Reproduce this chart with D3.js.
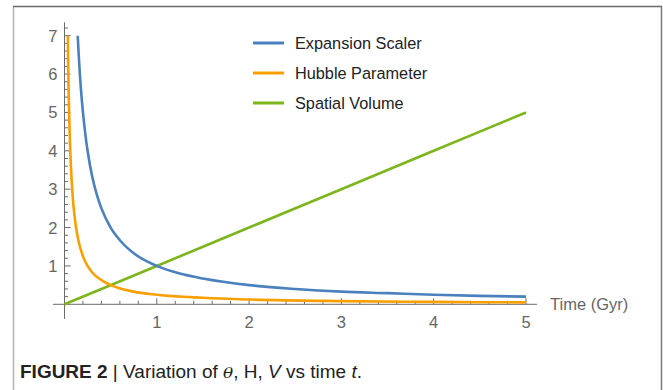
<!DOCTYPE html>
<html><head><meta charset="utf-8">
<script src="https://cdn.jsdelivr.net/npm/d3@7"></script>
<style>
html,body{margin:0;padding:0;background:#fff;}
svg{display:block;}
</style></head>
<body>
<svg id="c" width="663" height="390"></svg>
<script>
// ---- data ----
const seriesNames = ["Expansion Scaler", "Hubble Parameter", "Spatial Volume"];
const seriesColors = ["#4a80bd", "#f7a000", "#7db51c"];
const expansionT = [0.143,0.16,0.18,0.2,0.23,0.25,0.3,0.35,0.4,0.5,0.6,0.75,1,1.25,1.5,2,2.5,3,3.5,4,4.5,5];
const expansionV = [7,6.25,5.55,5,4.35,4,3.33,2.86,2.5,2,1.67,1.33,1,0.8,0.67,0.5,0.4,0.33,0.29,0.25,0.22,0.2];
const hubbleT = [0.036,0.04,0.045,0.05,0.0575,0.0625,0.075,0.09,0.1,0.125,0.15,0.2,0.25,0.3,0.4,0.5,0.75,1,1.5,2,3,4,5];
const hubbleV = [7,6.25,5.55,5,4.35,4,3.33,2.78,2.5,2,1.67,1.25,1,0.83,0.63,0.5,0.33,0.25,0.17,0.125,0.083,0.0625,0.05];
const volumeT = [0,1,2,3,4,5];
const volumeV = [0,1,2,3,4,5];
const xTicks = [1,2,3,4,5];
const yTicks = [1,2,3,4,5,6,7];
const xLabel = "Time (Gyr)";

const svg = d3.select("#c");
const x = d3.scaleLinear().domain([0,5]).range([64.5,526]);
const y = d3.scaleLinear().domain([0,7]).range([304.3,35.7]);
const axisColor = "#6b6b6b";
const labelColor = "#666";
const font = "'Liberation Sans', Arial, Helvetica, sans-serif";

// frame
svg.append("line").attr("x1",13.5).attr("x2",13.5).attr("y1",6).attr("y2",390).attr("stroke","#b4b4b4").attr("stroke-width",1.5);
svg.append("line").attr("x1",13).attr("x2",662).attr("y1",6.5).attr("y2",6.5).attr("stroke","#6a6a6a").attr("stroke-width",1.5);
svg.append("line").attr("x1",661.5).attr("x2",661.5).attr("y1",6).attr("y2",390).attr("stroke","#7a7a7a").attr("stroke-width",1.5);

// axes lines
svg.append("line").attr("x1",x(-0.125)).attr("x2",x(5.12)).attr("y1",y(0)).attr("y2",y(0)).attr("stroke",axisColor).attr("stroke-width",1);
svg.append("line").attr("x1",x(0)).attr("x2",x(0)).attr("y1",y(7.35)).attr("y2",y(-0.38)).attr("stroke",axisColor).attr("stroke-width",1);

// x minor/major ticks (pointing into plot)
const xMinor = d3.range(0,26).map(i=>i*0.2).filter(v=>v>0.01 && v<=5.05);
svg.append("g").selectAll("line").data(xMinor).join("line")
  .attr("x1",d=>x(d)).attr("x2",d=>x(d)).attr("y1",y(0))
  .attr("y2",d=>Math.abs(d-Math.round(d))<1e-6 ? y(0)-6 : y(0)-3.5)
  .attr("stroke",axisColor).attr("stroke-width",1);
const yMinor = d3.range(0,37).map(i=>i*0.2).filter(v=>v>0.01 && v<=7.3);
svg.append("g").selectAll("line").data(yMinor).join("line")
  .attr("y1",d=>y(d)).attr("y2",d=>y(d)).attr("x1",x(0))
  .attr("x2",d=>Math.abs(d-Math.round(d))<1e-6 ? x(0)+6 : x(0)+3.5)
  .attr("stroke",axisColor).attr("stroke-width",1);

// tick labels
svg.append("g").selectAll("text").data(xTicks).join("text")
  .attr("x",d=>x(d)).attr("y",y(0)+24).attr("text-anchor","middle")
  .attr("font-family",font).attr("font-size",16.5).attr("fill",labelColor).text(d=>d);
svg.append("g").selectAll("text").data(yTicks).join("text")
  .attr("x",x(0)-7).attr("y",d=>y(d)+6).attr("text-anchor","end")
  .attr("font-family",font).attr("font-size",16.5).attr("fill",labelColor).text(d=>d);
svg.append("text").attr("x",550).attr("y",y(0)+6).attr("font-family",font).attr("font-size",16.5)
  .attr("fill",labelColor).text(xLabel);

// curves
const line = d3.line().x(d=>x(d[0])).y(d=>y(d[1])).curve(d3.curveMonotoneX);
const series = [
  d3.zip(expansionT, expansionV),
  d3.zip(hubbleT, hubbleV),
  d3.zip(volumeT, volumeV)
];
const drawOrder = [2,0,1];
drawOrder.forEach(i=>{
  svg.append("path").datum(series[i]).attr("d",line).attr("fill","none")
    .attr("stroke",seriesColors[i]).attr("stroke-width",2.6).attr("stroke-linejoin","round");
});

// legend
const lg = svg.append("g");
seriesNames.forEach((n,i)=>{
  const yy = 43 + i*30;
  lg.append("line").attr("x1",253).attr("x2",284).attr("y1",yy).attr("y2",yy)
    .attr("stroke",seriesColors[i]).attr("stroke-width",3);
  lg.append("text").attr("x",295).attr("y",yy+5.5).attr("font-family",font).attr("font-size",16.3)
    .attr("fill","#222").text(n);
});

// caption
const cap = svg.append("text").attr("x",20).attr("y",378)
  .attr("font-family",font).attr("font-size",17.5).attr("fill","#222")
  .attr("textLength",342).attr("lengthAdjust","spacingAndGlyphs");
cap.append("tspan").attr("font-weight","bold").text("FIGURE 2");
cap.append("tspan").text(" | Variation of ");
cap.append("tspan").attr("font-style","italic").attr("font-family","'DejaVu Serif', 'Liberation Serif', serif").attr("font-size",15.5).text("θ");
cap.append("tspan").text(", H, ");
cap.append("tspan").attr("font-style","italic").text("V");
cap.append("tspan").text(" vs time ");
cap.append("tspan").attr("font-style","italic").text("t");
cap.append("tspan").text(".");
</script>
</body></html>
